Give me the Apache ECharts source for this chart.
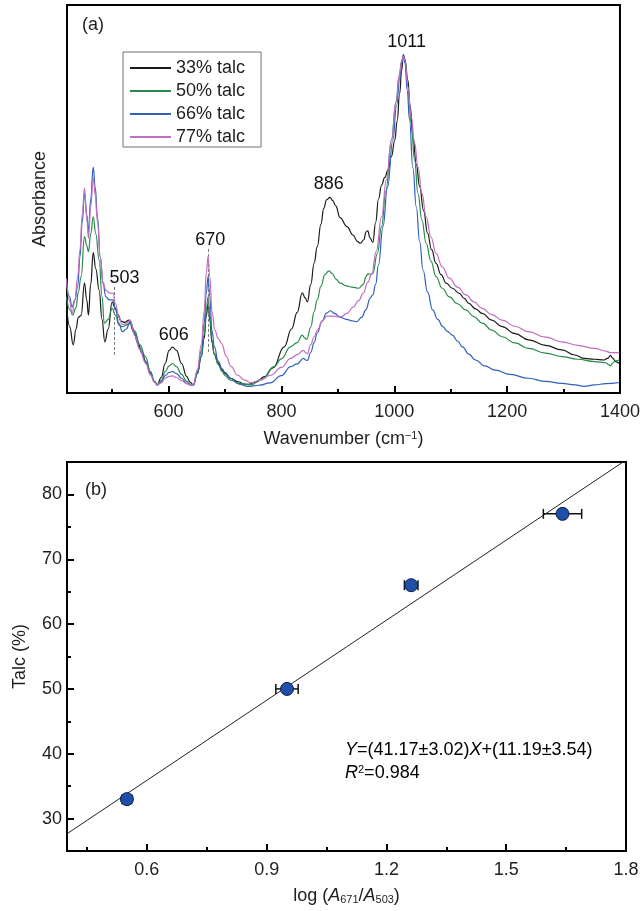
<!DOCTYPE html>
<html><head><meta charset="utf-8">
<script src="https://cdn.jsdelivr.net/npm/echarts@6/dist/echarts.min.js"></script>
<style>html,body{margin:0;padding:0;background:#fff;}#c{width:643px;height:911px;}</style>
</head><body><div id="c"></div>
<script>
// ---------- Panel (a): IR spectra (wavenumber, relative absorbance) ----------
const seriesNames = ['33% talc', '50% talc', '66% talc', '77% talc'];
const talc33 = [[419,23.0],[425,17],[431,12.4],[436,16.5],[440,19.5],[445,20],[451,28.3],[455,24],[458,20.1],[462,28],[466.5,36.2],[471,32],[477,26.5],[482,19],[487,13.2],[493,16.5],[500,23.5],[505,22],[510,20.3],[516,18.5],[522,18.2],[530,18.8],[538,15.8],[546,12.8],[553,10.2],[561,7.5],[568,5.1],[575,3.0],[580,2.1],[587,4],[594,7.6],[601,11],[607,11.8],[614,11],[623,7.6],[632,4.3],[638,2.8],[644,2.1],[651,5],[658,9.4],[663,14],[667,20],[670,23.1],[673,19],[677,13],[681,10],[688,7.7],[695,6],[700,5],[710,3.8],[723,2.9],[735,2.3],[741,2.2],[755,2.8],[770,4.2],[785,6.5],[805,11.9],[818,16.5],[828,20.8],[837,25.8],[842,24.5],[846,23.5],[852,28],[858,33.5],[863.5,37.7],[870,43.5],[875,47.6],[880,49.8],[886,50.4],[891,49.6],[896,48.3],[904,45.2],[916,42.9],[927,40.7],[935,39],[940,38.6],[946,39.5],[950,41.5],[953,41.8],[957,40],[962,38.8],[967,44],[972,50],[977.5,53.6],[983,55.5],[989,57.5],[995,61],[1001,65.2],[1005,70],[1009.6,77.2],[1013,83],[1016,87.2],[1019,86],[1024,80.7],[1028,74],[1033,66.1],[1039,59],[1045,53.2],[1052,47],[1059,41.2],[1066,37],[1074,33.4],[1083,30.5],[1092,28.3],[1103,27],[1115,25.7],[1124,24.4],[1132,23.1],[1144,21.7],[1156,20.5],[1173,18.8],[1191,17.1],[1214,15.3],[1238,13.7],[1268,12.3],[1297,11.1],[1320,9.8],[1337,8.9],[1355,8.7],[1372,8.5],[1379,9],[1383,9.7],[1387,9],[1392,8.1],[1399,7.6]];
const talc50 = [[419,24.8],[425,21.5],[430,20.1],[436,22],[440,26],[445,30],[451,40.3],[455,38],[458,36.4],[462,41],[466.5,45.4],[471,41],[477,34.3],[482,25],[486,18],[493,19],[500,21.8],[506,20],[512,17.5],[518,17.1],[525,17.5],[532,18],[540,16],[549,12.5],[559,9.4],[568,5.5],[575,3.0],[580,2.1],[587,3.2],[594,5.5],[601,7],[607,7.6],[614,6.8],[623,4.8],[632,3],[638,2.3],[644,2.1],[651,5],[658,9.4],[663,15],[667,21.5],[670,24.8],[673,20],[677,13.5],[681,10],[688,7.3],[695,5.5],[700,4.5],[710,3.3],[725,2.5],[746,2.1],[765,3.5],[787,6.8],[800,8.8],[816,11.9],[828,13],[837,14.9],[841,14.2],[845,13.8],[852,17],[858,21],[863.5,24],[870,27.5],[877,30.5],[884,31.5],[890,30.8],[897,29.3],[904,28.3],[915,27.6],[925,27.3],[937,27],[945,28],[950,30],[953,30.7],[958,30.6],[962,30.8],[970,36],[977.5,42.9],[985,52],[995,65.2],[1003,75],[1009,82],[1013,85.5],[1016,86.9],[1019,85.5],[1024,79],[1030,69.6],[1036,60],[1042,51.5],[1049,44.5],[1056.5,38.6],[1065,34],[1074,30],[1085,27],[1097.5,24.8],[1112,23],[1127,21.4],[1141,19.7],[1156,18],[1173,16.2],[1191,14.5],[1214,12.9],[1238,11.5],[1268,10.3],[1297,9.4],[1325,8.7],[1355,8.1],[1375,7.8],[1380,7.3],[1383,7.0],[1387,7.7],[1392,8.3],[1399,8.5]];
const talc66 = [[419,29.1],[424,25],[429,22.2],[434,24],[439,27.5],[443,35.1],[447,44],[451,51.5],[455,46],[458,41.6],[462,50],[466.5,58.2],[470,53],[474,45.4],[479,35],[484,28],[489,24.8],[495,24],[501.7,24],[506,21.5],[512,18],[518,15.8],[525,16.5],[532,18.3],[540,15.4],[549,11.5],[559,8.2],[568,5],[575,2.8],[580,2.0],[587,2.8],[594,4.5],[601,5.3],[607,5.5],[614,5],[623,3.8],[632,2.5],[638,2.1],[644,2.0],[651,5.5],[658,11],[663,18],[667,26],[670,30],[673,25],[677,16],[681,12],[688,8.2],[695,6.2],[700,5.3],[710,3.8],[725,2.3],[740,1.7],[760,2],[780,2.6],[800,4.5],[816.5,6.8],[828,7.5],[839,8.9],[843,8.5],[846,8.4],[852,10.5],[858,13],[863.5,15.4],[872,18.5],[880,20.6],[887,21.2],[894,20.5],[904.5,19.5],[915,19],[925,18.6],[933.6,18.4],[942,19.5],[950,21.5],[957,24.4],[962,25.3],[967,28],[972,33],[980,42.9],[988,53],[997.5,65.2],[1004,74],[1010,81.5],[1013,85],[1016,86.8],[1019,85],[1023,78],[1027,70.4],[1033,58],[1039,48],[1045,39],[1051,31.7],[1059,26],[1068,21.4],[1077,19],[1086,17.1],[1094,15.9],[1103,14.9],[1112,13.4],[1121,11.9],[1132,10],[1144,8.5],[1160,7],[1179,5.9],[1205,4.8],[1238,3.8],[1268,3],[1297,2.5],[1320,2.1],[1337,1.7],[1355,2.1],[1375,2.4],[1399,2.7]];
const talc77 = [[419,29.5],[424,24],[429,20.5],[434,24],[439,30],[443,37],[447,46],[451,52.8],[455,45],[458,39.9],[462,48],[466.5,55.3],[470,51],[474,44],[479,35],[484,28.5],[489,26.5],[495,25.8],[501.7,25.7],[506,23],[512,19.5],[518,17.7],[525,17.8],[532,18.8],[540,14.8],[549,11.2],[559,7.8],[568,4.6],[575,2.8],[580,2.1],[587,2.6],[594,3.8],[601,4.3],[607,4.4],[614,4],[623,3.2],[632,2.4],[638,2.1],[644,2.1],[651,6],[658,12.5],[663,21],[667,31],[670,35.3],[673,30],[677,21],[682,16.2],[688,14],[694,12.8],[702,9.5],[711,6.8],[722,4.6],[735,3.3],[746,2.6],[762,3.3],[781,4.6],[800,6.6],[816.5,8.9],[828,9.9],[839,11],[843,10.4],[846,10.1],[852,12.5],[858,14.5],[864,16.2],[872,18.5],[881,19.8],[893,19.8],[904.5,19.6],[916,20.5],[927.5,22.2],[937,23.8],[945,25.7],[953,28.5],[960,30.7],[968,36.5],[977.5,45.4],[986,55],[995,65.2],[1003,75],[1009,82],[1013,85.5],[1016,86.8],[1019,85.5],[1024,79],[1030,71.2],[1036,64.5],[1042,58.3],[1049,51.5],[1056.5,45.4],[1065,40.2],[1074,36],[1085,32.5],[1097.5,29.6],[1112,27.3],[1127,25.3],[1141,23.5],[1156,21.8],[1173,20.2],[1191,18.8],[1214,17.2],[1238,15.8],[1268,14.4],[1297,13.2],[1325,12.3],[1355,11.5],[1375,10.8],[1383,10.4],[1390,10.4],[1399,10.4]];
const peakLabels = [[522,29.6,'503'],[609,14.9,'606'],[674,39.4,'670'],[884,53.9,'886'],[1022,90.5,'1011']];
const peakLines = [[503,9.8,27.4],[670,10.6,37.4]];
const waveTicks = [600,800,1000,1200,1400];
const waveMinorTicks = [500,700,900,1100,1300];

// ---------- Panel (b): calibration ----------
const logRatio = [0.55, 0.951, 1.262, 1.641];
const talcPct = [33, 50, 66, 77];
const logRatioErr = [0.012, 0.028, 0.017, 0.048];
const fitX = [0.4, 1.8];
const fitY = [27.66, 85.30];
const calibXTicks = [0.6, 0.9, 1.2, 1.5, 1.8];
const calibXMinor = [0.45, 0.75, 1.05, 1.35, 1.65];
const calibYTicks = [30, 40, 50, 60, 70, 80];
const calibYMinor = [35, 45, 55, 65, 75];

const FONT = "'Liberation Sans', Arial, Helvetica, sans-serif";
const TXT = '#1e1e1e';
const colors = ['#1a1a1a', '#2a8a4a', '#3060b8', '#c070c0'];
const spectra = [talc33, talc50, talc66, talc77];

function majorAxis(gridIndex, min, max, ticks, labelMargin, decimals, extra) {
  return Object.assign({
    type: 'value', gridIndex, min, max,
    axisLine: {show: false},
    splitLine: {show: false},
    axisTick: {show: true, inside: true, length: 7, customValues: ticks, lineStyle: {color: '#000', width: 2}},
    axisLabel: {show: true, customValues: ticks, margin: labelMargin, fontSize: 18, fontFamily: FONT, color: TXT,
      formatter: v => Number(v).toFixed(decimals)},
    nameTextStyle: {fontSize: 18, fontFamily: FONT, color: TXT}
  }, extra || {});
}
function minorAxis(gridIndex, min, max, ticks, pos) {
  return {
    type: 'value', gridIndex, min, max, position: pos,
    axisLine: {show: false}, splitLine: {show: false},
    axisTick: {show: ticks.length > 0, inside: true, length: 4, customValues: ticks, lineStyle: {color: '#000', width: 2}},
    axisLabel: {show: false, customValues: ticks}
  };
}

const richBase = {
  n: {fontSize: 18, fontFamily: FONT, color: TXT, lineHeight: 18, verticalAlign: 'top'},
  i: {fontSize: 18, fontFamily: FONT, color: TXT, fontStyle: 'italic', lineHeight: 18, verticalAlign: 'top'},
  sup: {fontSize: 11, fontFamily: FONT, color: TXT, lineHeight: 11, verticalAlign: 'top'},
  sub: {fontSize: 11, fontFamily: FONT, color: TXT, lineHeight: 11, verticalAlign: 'bottom', padding: [9, 0, 0, 0]}
};

const series = spectra.map((d, k) => ({
  name: seriesNames[k], type: 'line', xAxisIndex: 0, yAxisIndex: 0,
  data: d, symbol: 'none', showSymbol: false, smooth: 0.45, smoothMonotone: 'x',
  lineStyle: {color: colors[k], width: 1.2}, itemStyle: {color: colors[k]},
  z: 3 + k
}));
series[0].markLine = {
  symbol: 'none', silent: true, label: {show: false},
  lineStyle: {type: [3, 2], color: '#7a7a7a', width: 1},
  data: peakLines.map(p => [{coord: [p[0], p[1]]}, {coord: [p[0], p[2]]}])
};
series.push({
  type: 'custom', xAxisIndex: 0, yAxisIndex: 0, silent: true, z: 10,
  data: peakLabels,
  renderItem: function (params, api) {
    const p = api.coord([api.value(0), api.value(1)]);
    return {type: 'text', x: p[0], y: p[1], style: {
      text: peakLabels[params.dataIndex][2], fill: '#111', fontSize: 18, fontFamily: FONT,
      align: 'center', verticalAlign: 'middle'}};
  }
});
// Panel (b)
series.push({
  type: 'line', xAxisIndex: 2, yAxisIndex: 2, silent: true,
  data: fitX.map((x, i) => [x, fitY[i]]), symbol: 'none',
  lineStyle: {color: '#222', width: 1}, clip: true, z: 2
});
series.push({
  type: 'custom', xAxisIndex: 2, yAxisIndex: 2, silent: true, z: 3,
  data: logRatio.map((x, i) => [x, talcPct[i], logRatioErr[i]]),
  renderItem: function (params, api) {
    const x = api.value(0), y = api.value(1), e = api.value(2);
    const a = api.coord([x - e, y]), b = api.coord([x + e, y]);
    const h = 5, st = {stroke: '#111', lineWidth: 1.5};
    return {type: 'group', children: [
      {type: 'line', shape: {x1: a[0], y1: a[1], x2: b[0], y2: b[1]}, style: st},
      {type: 'line', shape: {x1: a[0], y1: a[1] - h, x2: a[0], y2: a[1] + h}, style: st},
      {type: 'line', shape: {x1: b[0], y1: b[1] - h, x2: b[0], y2: b[1] + h}, style: st}
    ]};
  }
});
series.push({
  type: 'scatter', xAxisIndex: 2, yAxisIndex: 2, silent: true, z: 4,
  data: logRatio.map((x, i) => [x, talcPct[i]]),
  symbol: 'circle', symbolSize: 13,
  itemStyle: {color: '#1f4fa8', borderColor: '#0d1d45', borderWidth: 1, opacity: 1}
});

const option = {
  animation: false,
  backgroundColor: '#fff',
  textStyle: {fontFamily: FONT},
  grid: [
    {left: 67, top: 5, width: 559, height: 388, show: true, borderColor: '#000', borderWidth: 2, backgroundColor: 'transparent'},
    {left: 67, top: 462, width: 559, height: 389, show: true, borderColor: '#000', borderWidth: 2, backgroundColor: 'transparent'}
  ],
  legend: {
    data: seriesNames, orient: 'vertical', left: 123, top: 52,
    icon: 'rect', itemWidth: 41, itemHeight: 2, itemGap: 5, padding: [7, 16, 1, 7],
    borderColor: '#707070', borderWidth: 1,
    textStyle: {fontSize: 18, fontFamily: FONT, color: TXT}
  },
  xAxis: [
    majorAxis(0, 420, 1400, waveTicks, 10, 0, {
      name: '{n|Wavenumber (cm}{sup|−1}{n|)}', nameLocation: 'middle', nameGap: 37,
      nameTextStyle: {rich: richBase}
    }),
    minorAxis(0, 420, 1400, waveMinorTicks, 'bottom'),
    majorAxis(1, 0.4, 1.8, calibXTicks, 10, 1, {
      name: '{n|log (}{i|A}{sub|671}{n|/}{i|A}{sub|503}{n|)}', nameLocation: 'middle', nameGap: 36,
      nameTextStyle: {rich: richBase}
    }),
    minorAxis(1, 0.4, 1.8, calibXMinor, 'bottom')
  ],
  yAxis: [
    {type: 'value', gridIndex: 0, min: 0, max: 100,
     axisLine: {show: false}, axisTick: {show: false}, axisLabel: {show: false}, splitLine: {show: false},
     name: 'Absorbance', nameLocation: 'middle', nameGap: 18, nameRotate: 90,
     nameTextStyle: {fontSize: 18, fontFamily: FONT, color: TXT}},
    minorAxis(0, 0, 100, [], 'left'),
    majorAxis(1, 25, 85, calibYTicks, 5, 0, {
      name: 'Talc (%)', nameLocation: 'middle', nameGap: 38, nameRotate: 90
    }),
    minorAxis(1, 25, 85, calibYMinor, 'left')
  ],
  graphic: [
    {type: 'text', left: 82, top: 16, silent: true, style: {text: '(a)', fontSize: 18, fontFamily: FONT, fill: TXT}},
    {type: 'text', left: 85, top: 481, silent: true, style: {text: '(b)', fontSize: 18, fontFamily: FONT, fill: TXT}},
    {type: 'text', left: 345, top: 741, silent: true, style: {
      text: '{i|Y}{n|=(41.17±3.02)}{i|X}{n|+(11.19±3.54)}', rich: richBase}},
    {type: 'text', left: 345, top: 764, silent: true, style: {
      text: '{i|R}{sup|2}{n|=0.984}', rich: richBase}}
  ],
  series: series
};
const chart = echarts.init(document.getElementById('c'), null, {renderer: 'canvas'});
chart.setOption(option);
</script></body></html>
